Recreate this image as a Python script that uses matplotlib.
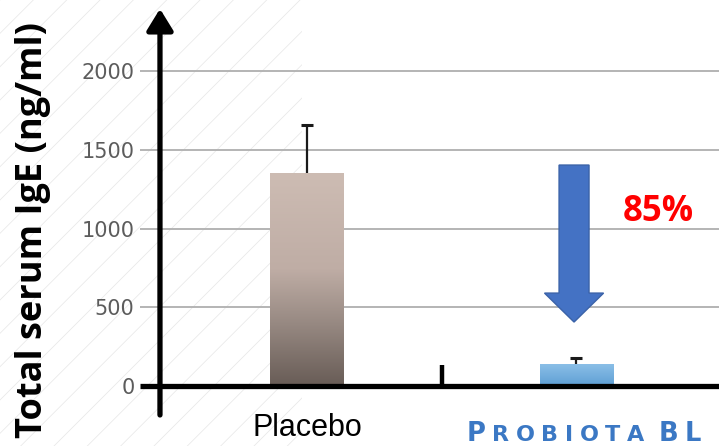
import numpy as np
import matplotlib
matplotlib.use("Agg")
import matplotlib.pyplot as plt
from matplotlib.colors import LinearSegmentedColormap
from matplotlib.patches import Rectangle, FancyArrow

# ---- data ----
categories = ["Placebo", "Probiota BL"]
values = [1352, 140]
errors = [305, 38]
yticks = [0, 500, 1000, 1500, 2000]
ylabel = "Total serum IgE (ng/ml)"
reduction_label = "85%"

W, H = 719, 446
fig = plt.figure(figsize=(W / 100, H / 100), dpi=100)
fig.patch.set_facecolor("white")

# faint background hatching (scan artifact in original)
plt.rcParams["hatch.linewidth"] = 0.5
bg = Rectangle((0, 0), 0.42, 1, transform=fig.transFigure, facecolor="none",
               edgecolor="#e6e6e6", hatch="/", linewidth=0, zorder=-5)
fig.patches.append(bg)

ax = fig.add_axes([140 / W, 0, (W - 140) / W, 1])
ax.set_zorder(2)
ax.patch.set_alpha(0)
x = np.arange(len(categories))
vals = np.array(values)
errs = np.array(errors)

for s in ax.spines.values():
    s.set_visible(False)

# grid
for yv in yticks[1:]:
    ax.axhline(yv, color="#b4b4b4", lw=1.4, zorder=1)

ax.set_yticks(yticks)
ax.set_yticklabels([str(v) for v in yticks], fontsize=15, color="#5c5c5c")
ax.tick_params(axis="y", length=0, pad=4)
ax.set_xticks([])

# error bars: upper whisker only
ax.vlines(x, vals, vals + errs, color="#1a1a1a", lw=1.6, zorder=1.5)
ax.plot(x, vals + errs, ls="none", marker="_", ms=9, mew=2.2, color="#1a1a1a",
        zorder=1.6)

# bars with gradients
bars = ax.bar(x, vals, width=0.272, color="none", zorder=2)
cmaps = [
    LinearSegmentedColormap.from_list("plc", [(0, "#685c56"), (0.3, "#988a83"),
                                              (0.55, "#bfada5"), (1, "#cdbcb3")]),
    LinearSegmentedColormap.from_list("pro", [(0, "#5f9fd4"), (1, "#8cc0e8")]),
]
grad = np.linspace(0, 1, 256).reshape(-1, 1)
for b, cm in zip(bars, cmaps):
    x0, w, h = b.get_x(), b.get_width(), b.get_height()
    im = ax.imshow(grad, extent=(x0, x0 + w, 0, h), origin="lower", cmap=cm,
                   aspect="auto", zorder=2)
    im.set_clip_path(b)
ax.set_xlim(-0.617, 1.528)
ax.set_ylim(-381, 2451)

# axes with arrows
ax.annotate("", xy=(-0.543, 2395), xytext=(-0.543, -184),
            arrowprops=dict(arrowstyle="-|>,head_length=1.3,head_width=0.8",
                            lw=3.8, color="black", shrinkA=0, shrinkB=0),
            zorder=5, annotation_clip=False)
ax.plot([-0.617, 1.54], [0, 0], color="black", lw=3.8, zorder=5,
        solid_capstyle="butt", clip_on=False)
ax.annotate("", xy=(1.60, 0), xytext=(1.50, 0),
            arrowprops=dict(arrowstyle="-|>,head_length=1.3,head_width=0.8",
                            lw=3.8, color="black", shrinkA=0, shrinkB=0),
            zorder=5)
ax.plot([0.5, 0.5], [0, 135], color="black", lw=3.2, zorder=5,
        solid_capstyle="butt")

# blue arrow showing reduction
arr = FancyArrow(0.991, 1403, 0, -997, width=0.111, head_width=0.219,
                 head_length=184, length_includes_head=True,
                 facecolor="#4472c4", edgecolor="#3a62a8", lw=1, zorder=4)
ax.add_patch(arr)
ax.text(1.302, 1105, reduction_label, color="#ff0000", fontsize=25,
        fontweight="bold", family="Open Sans", ha="center", va="center")

# category labels
fig.text(307 / W, 1 - 428 / H, categories[0], fontsize=22, family="Liberation Sans",
         ha="center", va="center", color="black")

# small caps label for second category
renderer = fig.canvas.get_renderer()
xpos = 467
base_y = 1 - 441 / H
blue = "#3b78c4"
for word_i, word in enumerate(categories[1].split(" ")):
    for j, ch in enumerate(word):
        big = ch.isupper()
        t = fig.text(xpos / W, base_y, ch.upper(), fontsize=18.5 if big else 16,
                     fontweight="bold", family="DejaVu Sans", color=blue,
                     ha="left", va="baseline")
        bb = t.get_window_extent(renderer)
        xpos += bb.width + 6.5
    xpos += 8

# y label
fig.text(33 / W, 1 - 230 / H, ylabel, rotation=90, fontsize=26, fontweight="bold",
         family="Open Sans", ha="center", va="center", color="black")

fig.savefig("out.png", dpi=100)
